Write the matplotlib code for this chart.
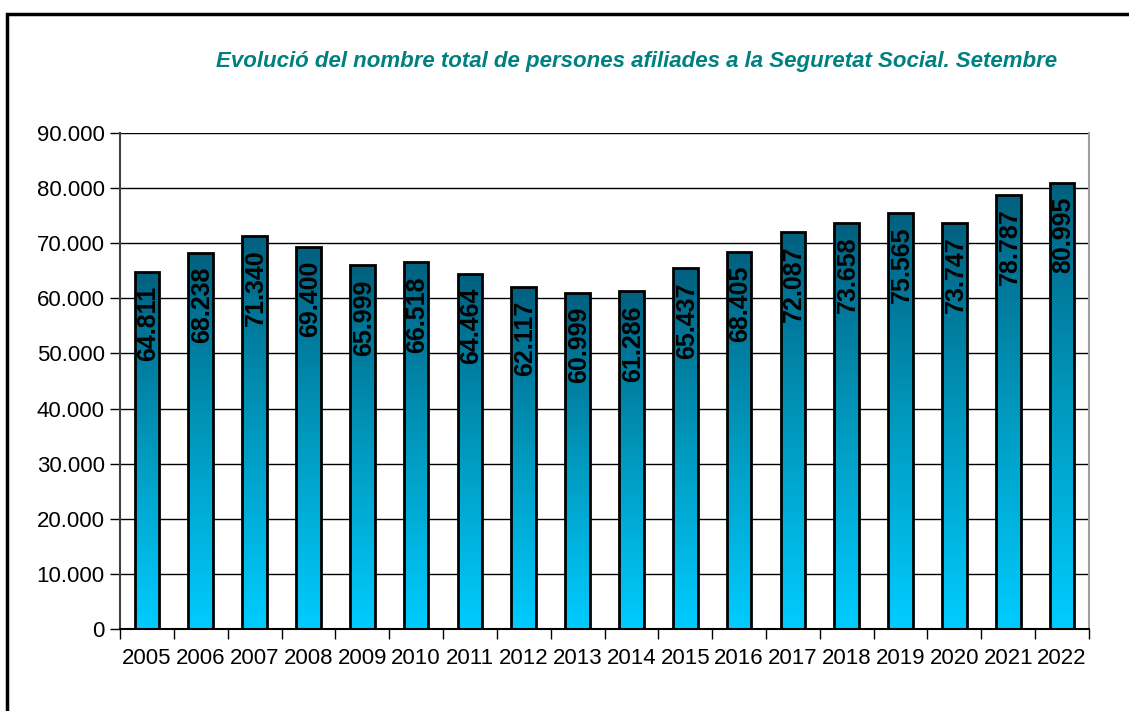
import numpy as np
import matplotlib.pyplot as plt
from matplotlib.colors import LinearSegmentedColormap
from matplotlib.patches import Rectangle
from matplotlib.ticker import FuncFormatter

plt.rcParams['font.family'] = ['Liberation Sans', 'DejaVu Sans']

years = ['2005', '2006', '2007', '2008', '2009', '2010', '2011', '2012', '2013',
         '2014', '2015', '2016', '2017', '2018', '2019', '2020', '2021', '2022']
afiliats = [64811, 68238, 71340, 69400, 65999, 66518, 64464, 62117, 60999,
            61286, 65437, 68405, 72087, 73658, 75565, 73747, 78787, 80995]
title = 'Evolució del nombre total de persones afiliades a la Seguretat Social. Setembre'


def punts(v):
    return '{:,.0f}'.format(v).replace(',', '.')


fig = plt.figure(figsize=(11.29, 7.11), dpi=100)
# marc de la figura (nomes es veu a l'esquerra i a dalt)
fig.patches.append(Rectangle((7 / 1129, -0.1), 1.2, 1 - 14 / 711 + 0.1,
                             transform=fig.transFigure, fill=False,
                             edgecolor='black', linewidth=2.5))

ax = fig.add_axes([120 / 1129, 1 - 629 / 711, 969 / 1129, 496 / 711])
x = np.arange(len(years))
w = 0.46
bars = ax.bar(x, afiliats, width=w, color='none', edgecolor='black',
              linewidth=2, zorder=3)

cmap = LinearSegmentedColormap.from_list('blau', ['#00CCFF', '#0099BE', '#00607F'])
grad = np.linspace(0, 1, 256).reshape(-1, 1)
for b in bars:
    x0, h = b.get_x(), b.get_height()
    im = ax.imshow(grad, cmap=cmap, origin='lower', aspect='auto',
                   extent=(x0, x0 + w, 0, h), zorder=2)
    im.set_clip_path(b)

for xi, v in zip(x, afiliats):
    ax.annotate(punts(v), (xi, v), xytext=(1, -10), textcoords='offset points',
                rotation=90, ha='center', va='top', fontsize=18,
                fontweight='bold', color='black', zorder=4)

ax.set_xlim(-0.5, len(years) - 0.5)
ax.set_ylim(0, 90000)
ax.set_yticks(np.arange(0, 90001, 10000))
ax.yaxis.set_major_formatter(FuncFormatter(lambda v, p: punts(v)))
ax.set_xticks(x)
ax.set_xticklabels(years)
ax.set_xticks(np.arange(-0.5, len(years)), minor=True)
ax.tick_params(axis='x', which='major', length=0, pad=14, labelsize=16)
ax.tick_params(axis='x', which='minor', length=7, width=1, direction='out')
ax.tick_params(axis='y', length=7, width=1, direction='out', labelsize=16, pad=4)
ax.grid(axis='y', color='black', linewidth=1, zorder=1)
ax.set_axisbelow(True)
ax.spines['top'].set_visible(False)
ax.spines['left'].set_color('#404040')
ax.spines['right'].set_color('#a0a0a0')
ax.spines['bottom'].set_color('black')
for s in ax.spines.values():
    s.set_linewidth(1.5)

fig.text(637 / 1129, 1 - 62 / 711, title, ha='center', va='center',
         fontsize=16, fontweight='bold', fontstyle='italic', color='#008080')

fig.savefig('out.png', dpi=100)
